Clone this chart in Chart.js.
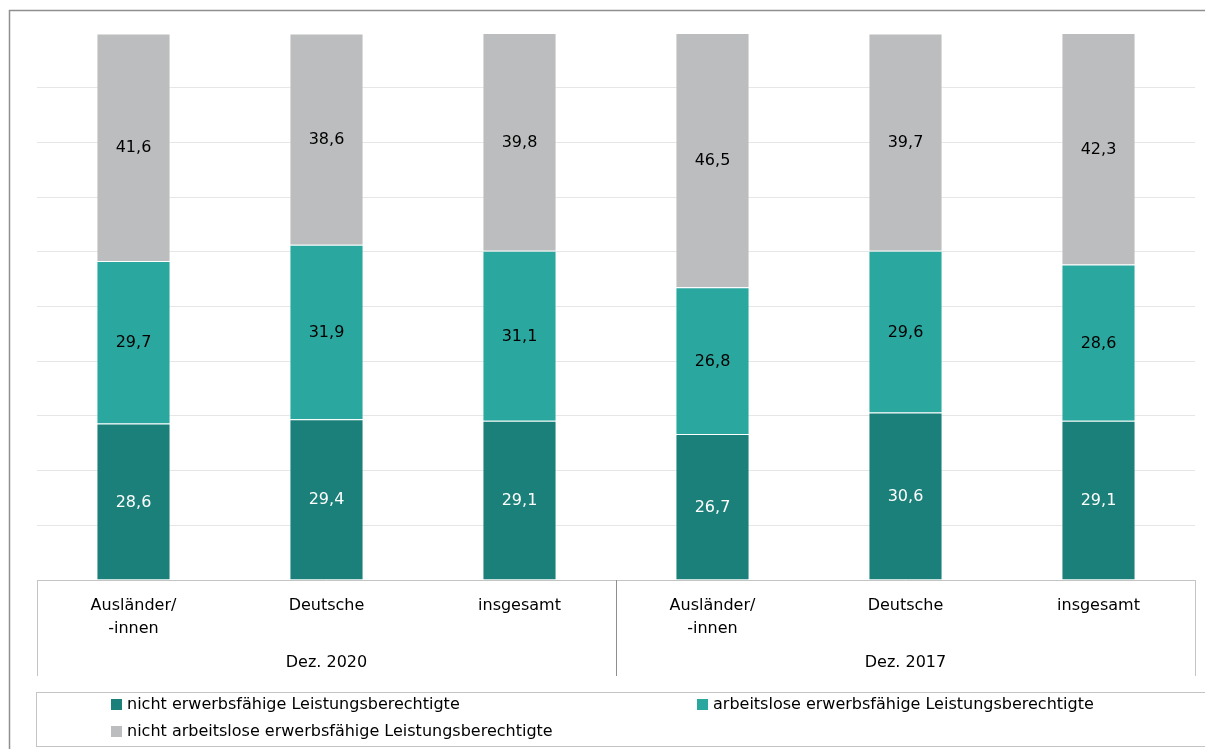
<!DOCTYPE html>
<html>
<head>
<meta charset="utf-8">
<script src="https://cdn.jsdelivr.net/npm/chart.js@4"></script>
<style>
  html, body { margin: 0; padding: 0; background: #fff; }
  #wrap { width: 1205px; height: 749px; }
</style>
</head>
<body>
<div id="wrap"><canvas id="graph" width="1205" height="749"></canvas></div>
<script>
const categories = [
  ["Ausländer/", "-innen"], "Deutsche", "insgesamt",
  ["Ausländer/", "-innen"], "Deutsche", "insgesamt"
];
const groups = ["Dez. 2020", "Dez. 2017"];
const seriesNames = [
  "nicht erwerbsfähige Leistungsberechtigte",
  "arbeitslose erwerbsfähige Leistungsberechtigte",
  "nicht arbeitslose erwerbsfähige Leistungsberechtigte"
];
const nichtErwerbsfaehig = [28.6, 29.4, 29.1, 26.7, 30.6, 29.1];
const arbeitslos = [29.7, 31.9, 31.1, 26.8, 29.6, 28.6];
const nichtArbeitslos = [41.6, 38.6, 39.8, 46.5, 39.7, 42.3];

const colors = ["#1b8079", "#2aa89f", "#bcbdbe"];
const labelColors = ["#ffffff", "#000000", "#000000"];
const FONT = "'DejaVu Sans', Verdana, sans-serif";

// labels in the segments, axis groups, frame and legend
const extras = {
  id: "extras",
  afterDatasetsDraw(chart) {
    const ctx = chart.ctx;
    ctx.save();
    ctx.font = "16px " + FONT;
    ctx.textAlign = "center";
    ctx.textBaseline = "middle";
    chart.data.datasets.forEach((ds, i) => {
      const meta = chart.getDatasetMeta(i);
      meta.data.forEach((bar, j) => {
        const y = (bar.y + bar.base) / 2 + 1;
        ctx.fillStyle = labelColors[i];
        ctx.fillText(ds.data[j].toFixed(1).replace(".", ","), bar.x, y);
      });
    });
    ctx.restore();
  },
  afterDraw(chart) {
    const ctx = chart.ctx;
    const x = chart.scales.x;
    const area = chart.chartArea;
    ctx.save();

    // outer frame
    ctx.strokeStyle = "#8f8f8f";
    ctx.lineWidth = 1.5;
    ctx.strokeRect(9.5, 10.5, 1205, 760);

    // axis line and group separators
    const bottom = area.bottom;
    const sepBottom = 676;
    ctx.lineWidth = 1;
    ctx.strokeStyle = "#c4c4c4";
    ctx.beginPath();
    ctx.moveTo(area.left, bottom + 0.5);
    ctx.lineTo(area.right, bottom + 0.5);
    ctx.moveTo(area.left + 0.5, bottom);
    ctx.lineTo(area.left + 0.5, sepBottom);
    ctx.moveTo(area.right + 0.5, bottom);
    ctx.lineTo(area.right + 0.5, sepBottom);
    ctx.stroke();
    const mid = (x.getPixelForValue(2) + x.getPixelForValue(3)) / 2;
    ctx.strokeStyle = "#8f8f8f";
    ctx.beginPath();
    ctx.moveTo(Math.round(mid) + 0.5, bottom);
    ctx.lineTo(Math.round(mid) + 0.5, sepBottom);
    ctx.stroke();

    // group labels
    ctx.font = "16px " + FONT;
    ctx.fillStyle = "#000";
    ctx.textAlign = "center";
    ctx.textBaseline = "middle";
    ctx.fillText(groups[0], (area.left + mid) / 2, 663);
    ctx.fillText(groups[1], (mid + area.right) / 2, 663);

    // legend box
    ctx.strokeStyle = "#c4c4c4";
    ctx.strokeRect(36.5, 692.5, 1200, 54);
    const items = [
      { x: 111, y: 705 },
      { x: 697, y: 705 },
      { x: 111, y: 732 }
    ];
    ctx.textAlign = "left";
    items.forEach((it, i) => {
      ctx.fillStyle = colors[i];
      ctx.fillRect(it.x, it.y - 6, 11, 11);
      ctx.fillStyle = "#000";
      ctx.fillText(seriesNames[i], it.x + 16, it.y);
    });
    ctx.restore();
  }
};

const ctx = document.getElementById("graph").getContext("2d");
new Chart(ctx, {
  type: "bar",
  data: {
    labels: categories,
    datasets: [nichtErwerbsfaehig, arbeitslos, nichtArbeitslos].map((d, i) => ({
      label: seriesNames[i],
      data: d,
      backgroundColor: colors[i],
      borderColor: "rgba(255,255,255,0.35)",
      borderWidth: 1,
      barPercentage: 0.384,
      categoryPercentage: 1
    }))
  },
  options: {
    responsive: false,
    animation: false,
    layout: { padding: { top: 33, left: 37, right: 10, bottom: 0 } },
    plugins: { legend: { display: false }, tooltip: { enabled: false } },
    scales: {
      x: {
        stacked: true,
        grid: { display: false, drawTicks: false },
        border: { display: false },
        ticks: {
          color: "#000",
          font: { family: FONT, size: 16, lineHeight: "23px" },
          padding: 14,
          maxRotation: 0,
          autoSkip: false
        },
        afterFit(scale) { scale.height = 169; }
      },
      y: {
        stacked: true,
        min: 0,
        max: 100,
        ticks: { display: false, stepSize: 10 },
        grid: {
          drawTicks: false,
          color: (c) => (c.tick.value > 0 && c.tick.value < 100 ? "#e6e6e6" : "rgba(0,0,0,0)")
        },
        border: { display: false },
        afterFit(scale) { scale.width = 0; }
      }
    }
  },
  plugins: [extras]
});
</script>
</body>
</html>
